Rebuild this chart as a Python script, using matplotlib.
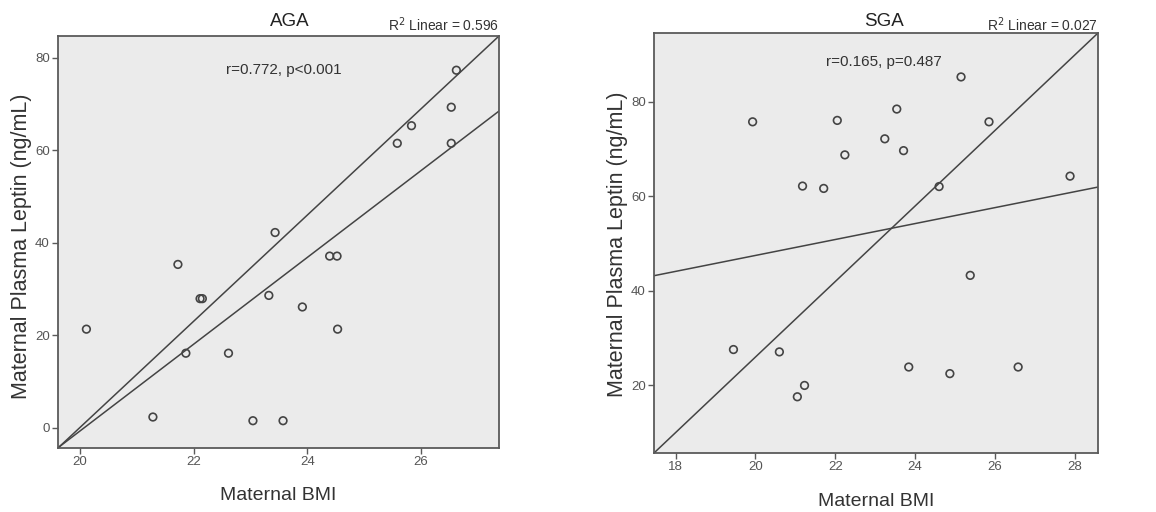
import numpy as np
import matplotlib
matplotlib.use("Agg")
import matplotlib.pyplot as plt

plt.rcParams['font.family'] = ['Liberation Sans', 'DejaVu Sans']

# AGA group
aga_bmi = [26.62, 26.53, 25.83, 25.58, 26.53, 23.43, 24.39, 24.52, 21.72, 22.11,
           22.15, 23.32, 23.91, 20.11, 24.53, 21.86, 22.61, 21.28, 23.04, 23.57]
aga_leptin = [77.3, 69.3, 65.3, 61.5, 61.5, 42.2, 37.1, 37.1, 35.3, 27.9,
              27.9, 28.6, 26.1, 21.3, 21.3, 16.1, 16.1, 2.3, 1.5, 1.5]

# SGA group
sga_bmi = [25.15, 23.54, 19.93, 22.05, 25.85, 23.24, 23.71, 22.24, 27.88, 21.18,
           21.71, 24.60, 25.38, 19.45, 20.60, 23.84, 24.87, 26.58, 21.23, 21.05]
sga_leptin = [85.3, 78.5, 75.8, 76.1, 75.8, 72.2, 69.7, 68.8, 64.3, 62.2,
              61.7, 62.1, 43.3, 27.6, 27.1, 23.9, 22.5, 23.9, 20.0, 17.6]

titles = ["AGA", "SGA"]
r2_labels = ["0.596", "0.027"]
stat_labels = ["r=0.772, p<0.001", "r=0.165, p=0.487"]

W, H = 1156, 512
fig = plt.figure(figsize=(W / 100, H / 100), dpi=100)

def box(x0, y0, x1, y1):
    return [x0 / W, 1 - y1 / H, (x1 - x0) / W, (y1 - y0) / H]

panels = [
    dict(rect=box(58, 36, 499, 448), x=aga_bmi, y=aga_leptin,
         xlim=(19.61, 27.37), ylim=(-4.4, 84.7), xticks=[20, 22, 24, 26],
         yticks=[0, 20, 40, 60, 80], title_x=290, stat_x=284, stat_y=70,
         xlabel_y=496, ylabel_x=22, ylabel_y=246),
    dict(rect=box(654, 33, 1098, 453), x=sga_bmi, y=sga_leptin,
         xlim=(17.46, 28.58), ylim=(5.7, 94.6), xticks=[18, 20, 22, 24, 26, 28],
         yticks=[20, 40, 60, 80], title_x=884, stat_x=884, stat_y=62,
         xlabel_y=502, ylabel_x=618, ylabel_y=244),
]

edge = '#444444'
for i, p in enumerate(panels):
    ax = fig.add_axes(p['rect'])
    ax.set_facecolor('#ebebeb')
    ax.set_xlim(p['xlim'])
    ax.set_ylim(p['ylim'])
    ax.set_xticks(p['xticks'])
    ax.set_yticks(p['yticks'])
    for s in ax.spines.values():
        s.set_color('#5a5a5a')
        s.set_linewidth(1.3)
    ax.tick_params(direction='out', length=4, width=1, color='#5a5a5a',
                   labelsize=9.5, labelcolor='#555555', pad=2)

    # diagonal reference line, corner to corner
    ax.plot([0, 1], [0, 1], transform=ax.transAxes, color=edge, lw=1.1)

    # least squares fit
    b, a = np.polyfit(p['x'], p['y'], 1)
    xs = np.array(p['xlim'])
    ax.plot(xs, a + b * xs, color=edge, lw=1.1)

    ax.scatter(p['x'], p['y'], s=30, facecolors='none', edgecolors=edge,
               linewidths=1.2, zorder=3, clip_on=False)

    rx0, ry0, rw, rh = p['rect']
    fig.text(p['title_x'] / W, 1 - 22 / H, titles[i], ha='center', va='center',
             fontsize=13.5, color='#222222')
    fig.text(rx0 + rw, 1 - 25 / H, r"R$^2$ Linear = " + r2_labels[i],
             ha='right', va='center', fontsize=10, color='#333333',
             math_fontfamily='dejavusans')
    fig.text(p['stat_x'] / W, 1 - p['stat_y'] / H, stat_labels[i],
             ha='center', va='center', fontsize=11, color='#333333')
    fig.text(rx0 + rw / 2, 1 - p['xlabel_y'] / H, "Maternal BMI",
             ha='center', va='center', fontsize=14, color='#333333')
    fig.text(p['ylabel_x'] / W, 1 - p['ylabel_y'] / H,
             "Maternal Plasma Leptin (ng/mL)",
             ha='center', va='center', rotation=90, fontsize=15.5, color='#333333')

fig.savefig("out.png", dpi=100, facecolor='white')
